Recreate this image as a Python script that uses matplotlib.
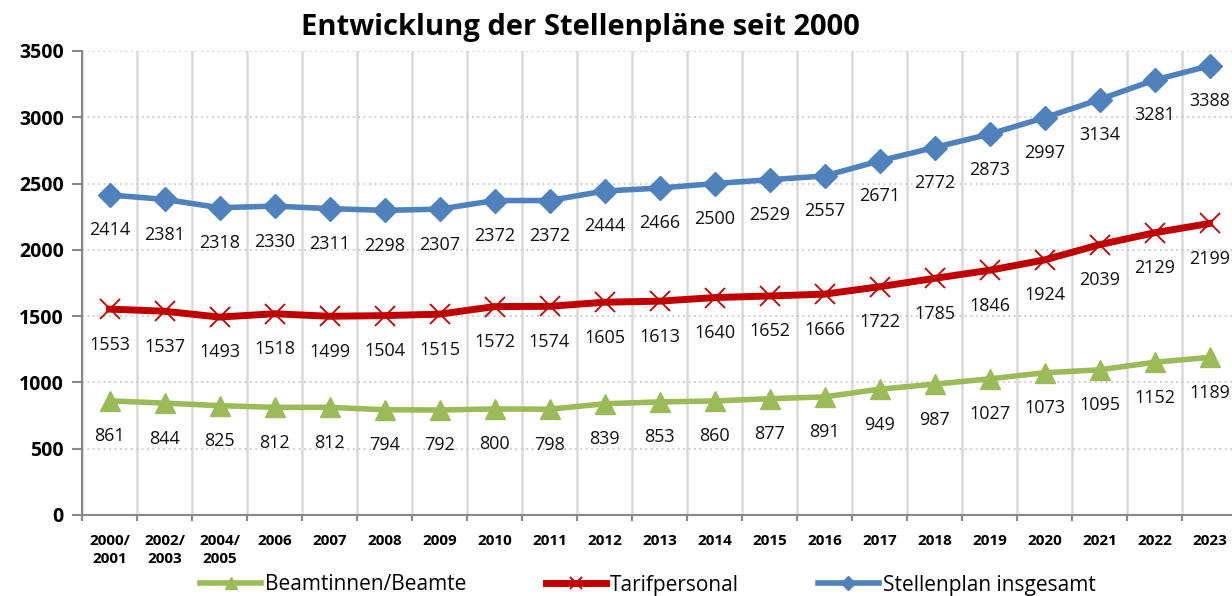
import matplotlib
matplotlib.use("Agg")
import matplotlib.pyplot as plt
from matplotlib.ticker import MultipleLocator, FixedLocator

categories = ["2000/\n2001", "2002/\n2003", "2004/\n2005", "2006", "2007", "2008", "2009",
              "2010", "2011", "2012", "2013", "2014", "2015", "2016", "2017", "2018",
              "2019", "2020", "2021", "2022", "2023"]
beamte = [861, 844, 825, 812, 812, 794, 792, 800, 798, 839, 853, 860, 877, 891,
          949, 987, 1027, 1073, 1095, 1152, 1189]
tarif = [1553, 1537, 1493, 1518, 1499, 1504, 1515, 1572, 1574, 1605, 1613, 1640,
         1652, 1666, 1722, 1785, 1846, 1924, 2039, 2129, 2199]
gesamt = [2414, 2381, 2318, 2330, 2311, 2298, 2307, 2372, 2372, 2444, 2466, 2500,
          2529, 2557, 2671, 2772, 2873, 2997, 3134, 3281, 3388]
title = "Entwicklung der Stellenpläne seit 2000"

plt.rcParams['font.family'] = ['Open Sans', 'DejaVu Sans']

fig = plt.figure(figsize=(12.32, 5.96), dpi=100)
ax = fig.add_axes([82/1232, 1-515/596, 1155/1232, 464/596])

x = list(range(len(categories)))
green = "#9BBB59"
red = "#C00000"
blue = "#4F81BD"

l1, = ax.plot(x, beamte, color=green, lw=4, marker="^", ms=14, mec=green, mfc=green,
              label="Beamtinnen/Beamte", zorder=3)
l2, = ax.plot(x, tarif, color=red, lw=5, marker="x", ms=15, mew=1.3, mec=red,
              label="Tarifpersonal", zorder=3)
l3, = ax.plot(x, gesamt, color=blue, lw=4, marker="D", ms=12, mec=blue, mfc=blue,
              label="Stellenplan insgesamt", zorder=3)

for series in (beamte, tarif, gesamt):
    for xi, v in zip(x, series):
        ax.annotate(str(v), (xi, v), xytext=(0, -25.5), textcoords="offset points",
                    ha="center", va="center", fontsize=13, color="#111111", zorder=4)

ax.set_xlim(-0.5, len(categories) - 0.5)
ax.set_ylim(0, 3500)
ax.yaxis.set_major_locator(MultipleLocator(500))
ax.set_xticks(x)
ax.set_xticklabels(categories, fontsize=11, fontweight="bold", linespacing=1.35)
ax.xaxis.set_minor_locator(FixedLocator([i + 0.5 for i in range(-1, len(categories))]))
ax.tick_params(axis="x", which="major", length=0, pad=14)
ax.tick_params(axis="x", which="minor", length=4, color="#888888", width=1.5)
ax.tick_params(axis="y", which="major", length=7, color="#888888", width=1.5,
               labelsize=14, pad=6)
for lab in ax.get_yticklabels():
    lab.set_fontweight("bold")

ax.grid(axis="x", which="minor", color="#D9D9D9", lw=1.8, ls="-", zorder=0)
ax.grid(axis="y", which="major", color="#C8C8C8", lw=1.3, ls=(0, (1, 2)), zorder=0)
ax.set_axisbelow(True)
for s in ("top", "right"):
    ax.spines[s].set_visible(False)
for s in ("left", "bottom"):
    ax.spines[s].set_color("#888888")
    ax.spines[s].set_linewidth(1.5)

fig.text(580/1232, 1-28/596, title, ha="center", va="center", fontsize=21,
         fontweight="bold")

fig.legend(handles=[l1, l2, l3], loc="center", bbox_to_anchor=(648/1232, 1-585/596),
           ncol=3, frameon=False, fontsize=15, handlelength=2.9, columnspacing=3.8,
           handletextpad=0.2, markerscale=0.6)

fig.savefig("out.png", dpi=100)
